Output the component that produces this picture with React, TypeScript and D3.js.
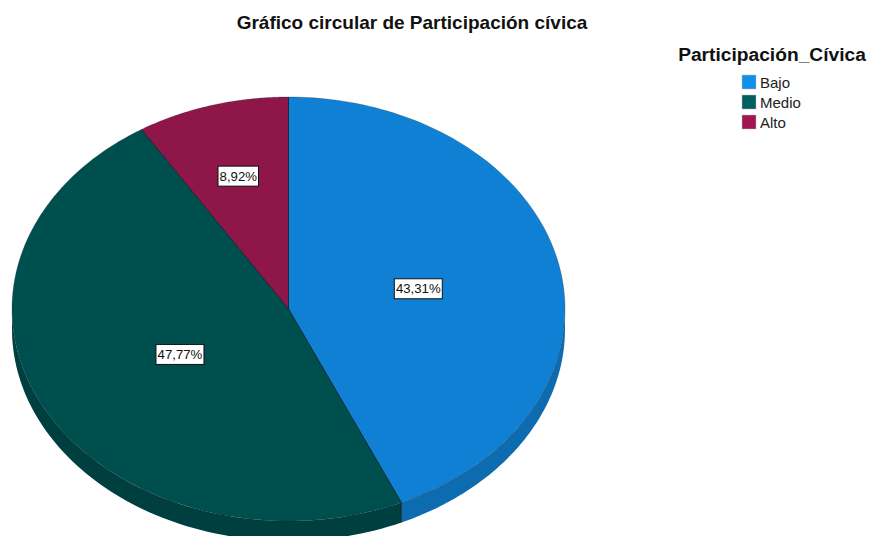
import React from "react";
import * as d3 from "d3";

const categories = ["Bajo", "Medio", "Alto"];
const values = [43.31, 47.77, 8.92];
const labels = ["43,31%", "47,77%", "8,92%"];
const topColors = ["#0f80d3", "#004f4f", "#8e1648"];
const sideColors = ["#0d6bb0", "#003f3f", "#74123b"];
const legendColors = ["#1090e8", "#006060", "#a01552"];
const title = "Gráfico circular de Participación cívica";
const legendTitle = "Participación_Cívica";

const W = 870, H = 536;
const cx = 288.5, cy = 309, rx = 276.5, ry = 212, depth = 20;
const FONT = "'Liberation Sans', Arial, sans-serif";
const labelFractions = [0.48, 0.445, 0.657];
const EDGE = "#0c1c26";

const px = (a: number, f = 1) => cx + rx * f * Math.sin(a);
const py = (a: number, f = 1) => cy - ry * f * Math.cos(a);

export default function App() {
  const arcs = d3.pie<number>().sort(null)(values);
  const slicePath = (a0: number, a1: number) => {
    const n = 120;
    const s = d3.scaleLinear().domain([0, n]).range([a0, a1]);
    const pts = d3.range(n + 1).map((i) => [px(s(i)), py(s(i))]);
    return `M${cx},${cy}L` + pts.map((p) => p.join(",")).join("L") + "Z";
  };
  const wallPath = (a0: number, a1: number) => {
    const lo = Math.max(a0, Math.PI / 2);
    const hi = Math.min(a1, (3 * Math.PI) / 2);
    if (hi <= lo) return null;
    const n = 80;
    const s = d3.scaleLinear().domain([0, n]).range([lo, hi]);
    const top = d3.range(n + 1).map((i) => [px(s(i)), py(s(i))]);
    const bot = top.map(([x, y]) => [x, y + depth]).reverse();
    return "M" + [...top, ...bot].map((p) => p.join(",")).join("L") + "Z";
  };
  const legendY = d3.scalePoint<string>().domain(categories).range([82, 122]);
  return (
    <svg
      width={W}
      height={H}
      viewBox={`0 0 ${W} ${H}`}
      style={{ position: "fixed", left: 0, top: 0, background: "#fff" }}
    >
      <text x={412} y={29} textAnchor="middle" fontFamily={FONT} fontWeight="bold" fontSize={19} fill="#111">
        {title}
      </text>
      {arcs.map((d, i) => {
        const p = wallPath(d.startAngle, d.endAngle);
        return p ? <path key={i} d={p} fill={sideColors[i]} /> : null;
      })}
      {arcs.map((d, i) => (
        <path key={i} d={slicePath(d.startAngle, d.endAngle)} fill={topColors[i]} stroke={EDGE} strokeOpacity={0.3} strokeWidth={0.8} />
      ))}
      {arcs.map((d, i) => (
        <line key={i} x1={cx} y1={cy} x2={px(d.startAngle)} y2={py(d.startAngle)} stroke={EDGE} strokeOpacity={0.85} strokeWidth={0.9} />
      ))}
      {arcs.map((d, i) => {
        const a = d.endAngle;
        if (a <= Math.PI / 2 || a >= (3 * Math.PI) / 2) return null;
        return <line key={i} x1={px(a)} x2={px(a)} y1={py(a)} y2={py(a) + depth} stroke={EDGE} strokeOpacity={0.85} strokeWidth={0.9} />;
      })}
      {arcs.map((d, i) => {
        const a = (d.startAngle + d.endAngle) / 2;
        const lx = px(a, labelFractions[i]);
        const ly = py(a, labelFractions[i]) + 1;
        const w = labels[i].length * 7.5 + 3;
        return (
          <g key={i}>
            <rect x={lx - w / 2} y={ly - 10} width={w} height={20} fill="#fff" stroke="#111" strokeWidth={1} />
            <text x={lx} y={ly + 4.5} textAnchor="middle" fontFamily={FONT} fontSize={13.2} fill="#111">
              {labels[i]}
            </text>
          </g>
        );
      })}
      <text x={772} y={61} textAnchor="middle" fontFamily={FONT} fontWeight="bold" fontSize={19.2} fill="#111">
        {legendTitle}
      </text>
      {categories.map((c, i) => (
        <g key={c}>
          <rect x={742} y={(legendY(c) as number) - 7} width={14} height={14} fill={legendColors[i]} stroke="#bbb" strokeWidth={0.5} />
          <text x={760} y={(legendY(c) as number) + 6} fontFamily={FONT} fontSize={15} fill="#222">
            {c}
          </text>
        </g>
      ))}
    </svg>
  );
}
